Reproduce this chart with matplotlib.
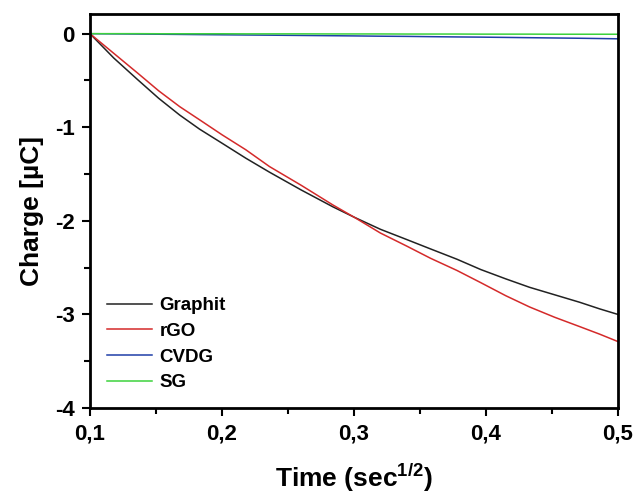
import matplotlib
matplotlib.use("Agg")
import matplotlib.pyplot as plt
from matplotlib.ticker import FuncFormatter, MultipleLocator

plt.rcParams['font.family'] = ['Liberation Sans', 'DejaVu Sans']
plt.rcParams['font.weight'] = 'bold'

# data (time in sec^1/2, charge in uC)
time = [0.100, 0.118, 0.136, 0.152, 0.168, 0.183, 0.200, 0.218, 0.236, 0.260, 0.284, 0.300,
        0.320, 0.340, 0.358, 0.378, 0.396, 0.415, 0.433, 0.452, 0.471, 0.486, 0.500]
graphit = [0.0, -0.26, -0.49, -0.69, -0.87, -1.02, -1.17, -1.33, -1.48, -1.67, -1.85, -1.96,
           -2.09, -2.20, -2.30, -2.41, -2.52, -2.62, -2.71, -2.79, -2.87, -2.94, -3.00]
rgo = [0.0, -0.21, -0.42, -0.61, -0.78, -0.92, -1.08, -1.24, -1.42, -1.62, -1.83, -1.96,
       -2.13, -2.27, -2.40, -2.53, -2.66, -2.80, -2.92, -3.03, -3.13, -3.21, -3.29]
cvdg = [0.0, -0.002, -0.004, -0.006, -0.008, -0.010, -0.012, -0.014, -0.016, -0.019, -0.022, -0.024,
        -0.027, -0.029, -0.032, -0.035, -0.037, -0.040, -0.043, -0.046, -0.049, -0.052, -0.055]
sg = [0.0, 0.0, 0.0, -0.001, -0.001, -0.001, -0.001, -0.002, -0.002, -0.002, -0.003, -0.003,
      -0.003, -0.004, -0.004, -0.004, -0.005, -0.005, -0.005, -0.006, -0.006, -0.006, -0.006]

series = [
    ("Graphit", graphit, "#222222"),
    ("rGO", rgo, "#d42a2a"),
    ("CVDG", cvdg, "#1f3fa8"),
    ("SG", sg, "#3cd23c"),
]

fig = plt.figure(figsize=(6.4, 4.97), dpi=100)
ax = fig.add_axes([0.1406, 0.179, 0.825, 0.7928])

for name, vals, color in series:
    ax.plot(time, vals, color=color, lw=1.1, label=name)

ax.set_xlim(0.1, 0.5)
ax.set_ylim(-4, 0.21)

ax.xaxis.set_major_locator(MultipleLocator(0.1))
ax.xaxis.set_minor_locator(MultipleLocator(0.05))
ax.yaxis.set_major_locator(MultipleLocator(1))
ax.yaxis.set_minor_locator(MultipleLocator(0.5))
ax.xaxis.set_major_formatter(FuncFormatter(lambda v, p: f"{v:.1f}".replace(".", ",")))
ax.yaxis.set_major_formatter(FuncFormatter(lambda v, p: f"{v:.0f}"))

ax.tick_params(which='both', direction='out', width=1.5, top=False, right=False)
ax.tick_params(which='major', length=6, labelsize=16, pad=5)
ax.tick_params(which='minor', length=4)
for s in ax.spines.values():
    s.set_linewidth(2)

ax.set_xlabel("Time (sec$^{\\mathregular{1/2}}$)", fontsize=19, fontweight='bold', labelpad=12)
ax.set_ylabel("Charge [µC]", fontsize=19, fontweight='bold', labelpad=8)

leg = ax.legend(loc='lower left', bbox_to_anchor=(0.0, 0.0), frameon=False,
                fontsize=13.5, handlelength=2.4, handletextpad=0.4, labelspacing=0.45)

fig.savefig("out.png", dpi=100)
